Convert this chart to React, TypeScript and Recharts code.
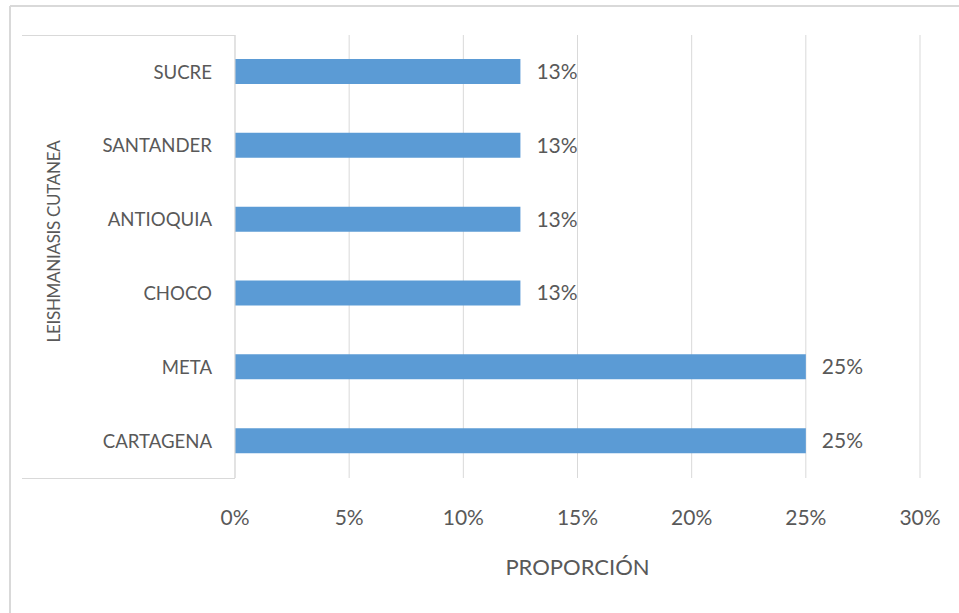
import {
  BarChart,
  Bar,
  XAxis,
  YAxis,
  CartesianGrid,
  LabelList,
} from "recharts";

const departamentos = ["SUCRE", "SANTANDER", "ANTIOQUIA", "CHOCO", "META", "CARTAGENA"];
const proporcion = [12.5, 12.5, 12.5, 12.5, 25, 25];
const xTicks = [0, 5, 10, 15, 20, 25, 30];

const data = departamentos.map((name, i) => ({ name, value: proporcion[i] }));

const gray = "#d9d9d9";
const textColor = "#595959";

export default function App() {
  return (
    <div
      style={{
        position: "fixed",
        top: 0,
        left: 0,
        width: 959,
        height: 613,
        background: "#fff",
        fontFamily: "Lato, sans-serif",
        overflow: "hidden",
      }}
    >
      {/* outer frame and the box around the category labels */}
      <svg
        width={959}
        height={613}
        style={{ position: "absolute", top: 0, left: 0, pointerEvents: "none" }}
      >
        <line x1={10} y1={6} x2={959} y2={6} stroke={gray} strokeWidth={2} />
        <line x1={10} y1={6} x2={10} y2={613} stroke={gray} strokeWidth={2} />
        <line x1={22} y1={35.5} x2={235} y2={35.5} stroke={gray} strokeWidth={1} />
        <line x1={22} y1={478.5} x2={235} y2={478.5} stroke={gray} strokeWidth={1} />
      </svg>
      <div style={{ position: "absolute", top: 0, left: 0 }}>
        <BarChart
          width={959}
          height={613}
          data={data}
          layout="vertical"
          margin={{ top: 35, right: 39, left: 0, bottom: 0 }}
        >
          <CartesianGrid horizontal={false} stroke={gray} />
          <XAxis
            type="number"
            domain={[0, 30]}
            ticks={xTicks}
            tickFormatter={(v) => `${v}%`}
            height={135}
            axisLine={false}
            tickLine={false}
            tickSize={0}
            tickMargin={32}
            tick={{ fill: textColor, fontSize: 21 }}
            label={{
              value: "PROPORCIÓN",
              position: "center",
              dy: 22,
              fill: textColor,
              fontSize: 22,
            }}
          />
          <YAxis
            type="category"
            dataKey="name"
            width={235}
            axisLine={{ stroke: gray }}
            tickLine={false}
            tickSize={0}
            tickMargin={23}
            tick={{ fill: textColor, fontSize: 18.6 }}
            label={{
              value: "LEISHMANIASIS CUTANEA",
              angle: -90,
              position: "center",
              dx: -64,
              dy: -15,
              fill: textColor,
              fontSize: 17,
              letterSpacing: -0.3,
            }}
          />
          <Bar dataKey="value" fill="#5b9bd5" barSize={25} isAnimationActive={false}>
            <LabelList
              dataKey="value"
              position="right"
              offset={16}
              formatter={(v: number) => `${Math.round(v)}%`}
              fill={textColor}
              fontSize={21}
            />
          </Bar>
        </BarChart>
      </div>
    </div>
  );
}
